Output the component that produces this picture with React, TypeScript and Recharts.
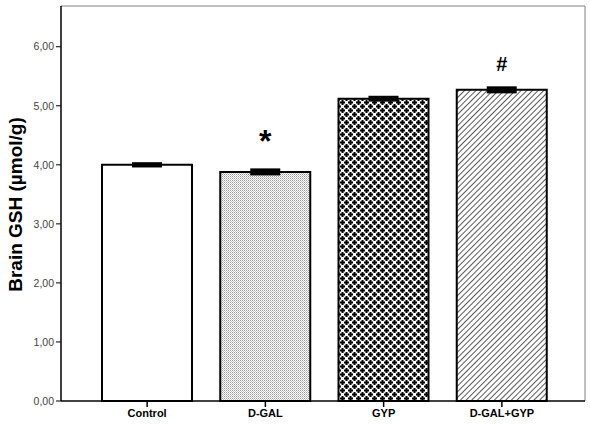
import { Bar, BarChart, CartesianGrid, Cell, ErrorBar, LabelList, XAxis, YAxis } from "recharts";

const groups = ["Control", "D-GAL", "GYP", "D-GAL+GYP"];
const gshMeans = [4.0, 3.88, 5.12, 5.27];
const gshSem = [0.015, 0.03, 0.02, 0.03];
const marks = ["", "*", "", "#"];
const yTicks = [0, 1, 2, 3, 4, 5, 6];

const fills = ["#ffffff", "url(#dots)", "url(#crosses)", "url(#hatch)"];

const rows = groups.map((g, i) => ({ group: g, gsh: gshMeans[i], sem: gshSem[i], mark: marks[i] }));

const fmt = (v: number) => v.toFixed(2).replace(".", ",");
const FONT = "Arial, 'Liberation Sans', sans-serif";

// plus-sign centres for the GYP fill (wrapped so the tile repeats cleanly)
const crossCentres = [
  [2.5, 2.5],
  [6.5, 6.5],
  [-1.5, 6.5],
  [6.5, -1.5],
  [-1.5, -1.5],
  [10.5, 2.5],
  [2.5, 10.5],
];
const plus = (cx: number, cy: number) =>
  `M${cx - 1} ${cy - 2.5}h2v1.5h1.5v2h-1.5v1.5h-2v-1.5h-1.5v-2h1.5z`;

function MarkLabel(props: any) {
  const { x, y, width, value } = props;
  if (!value) return null;
  const star = value === "*";
  return (
    <text
      x={x + width / 2}
      y={star ? y - 20 : y - 19}
      textAnchor="middle"
      fontFamily={FONT}
      fontWeight="bold"
      fontSize={star ? 32 : 20}
      fill="#000"
    >
      {value}
    </text>
  );
}

export default function App() {
  return (
    <div style={{ width: 590, height: 426, background: "#fff" }}>
      <style>{"body{margin:0}"}</style>
      <BarChart width={590} height={426} data={rows} margin={{ top: 6, right: 5, bottom: 0, left: 0 }}>
        <defs>
          <pattern id="dots" width="2" height="2" patternUnits="userSpaceOnUse">
            <rect width="2" height="2" fill="#ffffff" />
            <rect width="1" height="1" fill="#9a9a9a" />
            <rect x="1" y="1" width="1" height="1" fill="#c8c8c8" />
          </pattern>
          <pattern id="crosses" width="8" height="8" patternUnits="userSpaceOnUse">
            <rect width="8" height="8" fill="#ffffff" />
            {crossCentres.map(([cx, cy], i) => (
              <path key={i} d={plus(cx, cy)} fill="#000" />
            ))}
          </pattern>
          <pattern id="hatch" width="4" height="4" patternUnits="userSpaceOnUse" patternTransform="rotate(45)">
            <rect width="4" height="4" fill="#ffffff" />
            <line x1="0" y1="0" x2="0" y2="4" stroke="#000" strokeWidth="1.3" />
          </pattern>
        </defs>
        {/* grey top and right edges of the plot frame */}
        <CartesianGrid
          stroke="#808080"
          strokeWidth={1}
          horizontalCoordinatesGenerator={({ offset }: any) => [offset.top]}
          verticalCoordinatesGenerator={({ offset }: any) => [offset.left + offset.width]}
        />
        <XAxis
          dataKey="group"
          height={25}
          padding={{ left: 27, right: 24 }}
          axisLine={{ stroke: "#000", strokeWidth: 1.5 }}
          tickLine={{ stroke: "#000", strokeWidth: 1.5 }}
          tickSize={6}
          tick={{ fill: "#000", fontSize: 11, fontWeight: "bold", fontFamily: FONT }}
        />
        <YAxis
          width={61}
          domain={[0, 6.69]}
          ticks={yTicks}
          tickFormatter={fmt}
          axisLine={{ stroke: "#000", strokeWidth: 1.5 }}
          tickLine={{ stroke: "#000", strokeWidth: 1 }}
          tickSize={5}
          tick={{ fill: "#444", fontSize: 10.5, fontFamily: FONT }}
          label={{
            value: "Brain GSH (µmol/g)",
            angle: -90,
            position: "insideLeft",
            offset: 0,
            dx: 15,
            dy: 1,
            style: { fontSize: 19, fontWeight: "bold", fill: "#000", fontFamily: FONT, textAnchor: "middle" },
          }}
        />
        <Bar dataKey="gsh" barSize={90} stroke="#000" strokeWidth={2} isAnimationActive={false}>
          {rows.map((r, i) => (
            <Cell key={r.group} fill={fills[i]} />
          ))}
          <ErrorBar dataKey="sem" width={15} stroke="#000" strokeWidth={3.5} />
          <LabelList dataKey="mark" content={MarkLabel} />
        </Bar>
      </BarChart>
    </div>
  );
}
